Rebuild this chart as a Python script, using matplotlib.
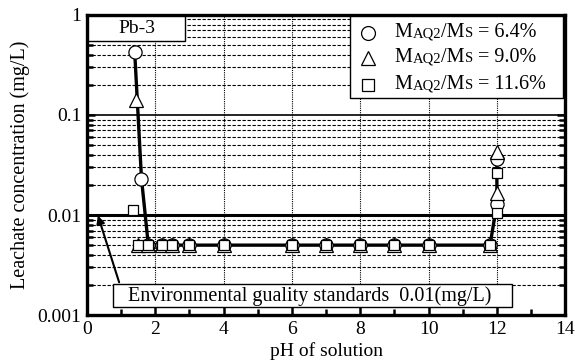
import numpy as np
import matplotlib.pyplot as plt
from matplotlib.patches import Rectangle
from matplotlib.offsetbox import TextArea, HPacker, AnnotationBbox
from matplotlib.ticker import FixedLocator, NullFormatter

plt.rcParams['font.family'] = ['Liberation Serif', 'DejaVu Serif']

# ------------------------------
# Datos
# ------------------------------
ph_plateau = [1.5, 1.8, 2.2, 2.5, 3.0, 4.0, 6.0, 7.0, 8.0, 9.0, 10.0, 11.8]
c_plateau = [0.005] * len(ph_plateau)

ph_64 = [1.4, 1.6, 1.8, 2.2, 2.5, 3.0, 4.0, 6.0, 7.0, 8.0, 9.0, 10.0, 11.8, 12.0, 12.0]
c_64 = [0.43, 0.023, 0.005, 0.005, 0.005, 0.005, 0.005, 0.005, 0.005, 0.005, 0.005, 0.005, 0.005, 0.013, 0.036]

ph_90 = [1.45] + ph_plateau + [12.0, 12.0]
c_90 = [0.14] + c_plateau + [0.0166, 0.043]

ph_116 = [1.35] + ph_plateau + [12.0, 12.0]
c_116 = [0.0112] + c_plateau + [0.0104, 0.026]

labels_pct = ["6.4%", "9.0%", "11.6%"]
markers = ["o", "^", "s"]

fig = plt.figure(figsize=(5.75, 3.63), dpi=100)
ax = fig.add_axes([0.151, 0.132, 0.832, 0.827])
ax.set_yscale("log")
ax.set_xlim(0, 14)
ax.set_ylim(0.001, 1)

# rejilla
for d in [0.001, 0.01, 0.1]:
    for k in range(2, 10):
        ax.axhline(d * k, color="black", lw=0.8, ls=(0, (3, 1.5)), zorder=1)
ax.axhline(0.1, color="black", lw=1.2, zorder=1)
ax.axhline(0.01, color="black", lw=2.2, zorder=1)
for x in range(2, 14, 2):
    ax.axvline(x, color="black", lw=0.8, ls=(0, (1, 1)), zorder=1)

# series
ax.plot(ph_64, c_64, color="black", lw=2.4, zorder=3)
ax.plot(ph_64, c_64, ls="none", marker="o", ms=9.5, mfc="white", mec="black", mew=0.9, zorder=4)
ax.plot(ph_90, c_90, ls="none", marker="^", ms=10, mfc="white", mec="black", mew=0.9, zorder=5)
ax.plot(ph_116, c_116, ls="none", marker="s", ms=7.5, mfc="white", mec="black", mew=0.9, zorder=6)

# ejes
for s in ax.spines.values():
    s.set_linewidth(2.4)
    s.set_zorder(10)
ax.set_xticks(range(0, 15, 2))
ax.xaxis.set_minor_locator(FixedLocator(range(1, 14, 2)))
ax.set_yticks([0.001, 0.01, 0.1, 1])
ax.set_yticklabels(["0.001", "0.01", "0.1", "1"])
ax.yaxis.set_minor_formatter(NullFormatter())
ax.tick_params(which="both", direction="in", right=True, top=False, labelsize=14, width=1.8)
ax.tick_params(which="major", length=6, pad=4)
ax.tick_params(which="minor", length=4)
ax.set_xlabel("pH of solution", fontsize=14, labelpad=3)
ax.set_ylabel("Leachate concentration (mg/L)", fontsize=14.5, labelpad=5)

# etiqueta Pb-3
ax.add_patch(Rectangle((0.003, 0.913), 0.202, 0.084, transform=ax.transAxes,
                       fc="white", ec="black", lw=1.0, zorder=11))
ax.text(0.105, 0.955, "Pb-3", transform=ax.transAxes, fontsize=14,
        ha="center", va="center", zorder=12)

# leyenda manual
ax.add_patch(Rectangle((0.55, 0.723), 0.446, 0.274, transform=ax.transAxes,
                       fc="white", ec="black", lw=1.0, zorder=11))
row_y = [0.94, 0.857, 0.767]
for m, lab, y in zip(markers, labels_pct, row_y):
    ax.plot([0.588], [y], transform=ax.transAxes, marker=m,
            ms={"o": 10, "^": 10.5, "s": 9}[m], mfc="white", mec="black", mew=0.9,
            ls="none", zorder=12, clip_on=False)
    big = dict(fontsize=14.5, color="black")
    small = dict(fontsize=10.5, color="black")
    parts = [TextArea("M", textprops=big), TextArea("AQ2", textprops=small),
             TextArea("/M", textprops=big), TextArea("S", textprops=small),
             TextArea(" = " + lab, textprops=big)]
    box = HPacker(children=parts, align="baseline", pad=0, sep=0)
    ab = AnnotationBbox(box, (0.644, y), xycoords="axes fraction", box_alignment=(0, 0.5),
                        frameon=False, zorder=13)
    ax.add_artist(ab)

# norma ambiental
ax.add_patch(Rectangle((0.054, 0.027), 0.835, 0.076, transform=ax.transAxes,
                       fc="white", ec="black", lw=1.0, zorder=11))
ax.text(0.086, 0.063, "Environmental guality standards  0.01(mg/L)",
        transform=ax.transAxes, fontsize=14.5, ha="left", va="center", zorder=12)
ax.annotate("", xy=(0.3, 0.0105), xytext=(0.97, 0.002),
            arrowprops=dict(arrowstyle="-|>", color="black", lw=1.5, mutation_scale=12), zorder=12)

fig.savefig("out.png", dpi=100)
